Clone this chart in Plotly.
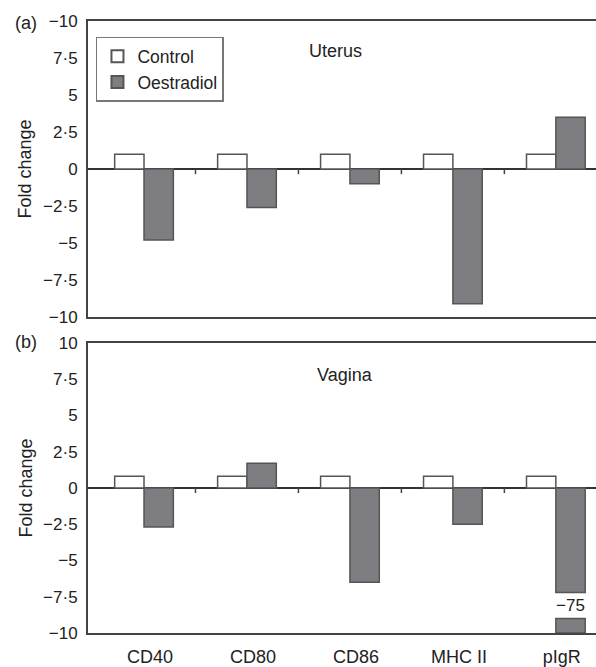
import plotly.graph_objects as go

# ---- data ----
categories = ["CD40", "CD80", "CD86", "MHC II", "pIgR"]
uterus_control = [1.0, 1.0, 1.0, 1.0, 1.0]
uterus_oestradiol = [-4.8, -2.6, -1.0, -9.1, 3.5]
vagina_control = [0.8, 0.8, 0.8, 0.8, 0.8]
vagina_oestradiol = [-2.7, 1.7, -6.5, -2.5, -75.0]

uterus_tickvals = [10, 7.5, 5, 2.5, 0, -2.5, -5, -7.5, -10]
uterus_ticktext = ["\u221210", "7\u00b75", "5", "2\u00b75", "0", "\u22122\u00b75", "\u22125", "\u22127\u00b75", "\u221210"]
vagina_tickvals = [10, 7.5, 5, 2.5, 0, -2.5, -5, -7.5, -10]
vagina_ticktext = ["10", "7\u00b75", "5", "2\u00b75", "0", "\u22122\u00b75", "\u22125", "\u22127\u00b75", "\u221210"]

# axis break for off-scale value
axis_min = -10
break_from = -7.2
break_to = -9.0

# ---- styling ----
FONT = "Liberation Sans, Arial, sans-serif"
GREY = "#7e7e82"
EDGE = "#555555"
AXC = "#444444"
W = 0.285  # bar width in category units

fig = go.Figure()

def add_panel(ctrl, oes, xa, ya, showlegend):
    fig.add_trace(go.Bar(x=list(range(len(categories))), y=ctrl, name="Control",
                         marker=dict(color="white", line=dict(color=EDGE, width=1.5)),
                         width=W, offset=-W, xaxis=xa, yaxis=ya, showlegend=showlegend))
    disp = [v if v >= axis_min else break_from for v in oes]
    fig.add_trace(go.Bar(x=list(range(len(categories))), y=disp, name="Oestradiol",
                         marker=dict(color=GREY, line=dict(color=EDGE, width=1.5)),
                         width=W, offset=0, xaxis=xa, yaxis=ya, showlegend=showlegend))
    # lower segment of broken bars
    bx, by, bb = [], [], []
    for i, v in enumerate(oes):
        if v < axis_min:
            bx.append(i)
            by.append(axis_min - break_to)
            bb.append(break_to)
            fig.add_annotation(x=i + W / 2, y=(break_from + break_to) / 2, xref=xa, yref=ya,
                               text="\u2212" + str(int(abs(v))), showarrow=False,
                               font=dict(family=FONT, size=17, color="#222"))
    if bx:
        fig.add_trace(go.Bar(x=bx, y=by, base=bb, name="Oestradiol",
                             marker=dict(color=GREY, line=dict(color=EDGE, width=1.5)),
                             width=W, offset=0, xaxis=xa, yaxis=ya, showlegend=False,
                             cliponaxis=True))
    # small ticks between categories on the zero line
    for k in range(len(categories) - 1):
        fig.add_shape(type="line", xref=xa, yref=ya, x0=k + 0.5, x1=k + 0.5, y0=0, y1=-0.35,
                      line=dict(color=AXC, width=1.5))

add_panel(uterus_control, uterus_oestradiol, "x", "y", True)
add_panel(vagina_control, vagina_oestradiol, "x2", "y2", False)

xrange = [-0.544, 4.39]
common_x = dict(type="linear", range=xrange, showgrid=False, zeroline=False, showline=True,
                mirror=True, linecolor=AXC, linewidth=2, ticks="")
common_y = dict(range=[-10, 10], showgrid=False, showline=True, linecolor=AXC, linewidth=2,
                mirror=False, zeroline=True, zerolinecolor="#333333", zerolinewidth=1.5, ticks="",
                tickmode="array", tickfont=dict(family=FONT, size=17, color="#222"),
                ticklabelstandoff=5)

fig.update_layout(
    width=596, height=667,
    margin=dict(l=88, r=0, t=21, b=30),
    plot_bgcolor="white", paper_bgcolor="white",
    barmode="overlay",
    font=dict(family=FONT, size=18, color="#222"),
    xaxis=dict(common_x, domain=[0, 1], anchor="y", showticklabels=False),
    yaxis=dict(common_y, domain=[0.5162, 1.0], anchor="x",
               tickvals=uterus_tickvals, ticktext=uterus_ticktext),
    xaxis2=dict(common_x, domain=[0, 1], anchor="y2", showticklabels=True,
                tickmode="array", tickvals=list(range(len(categories))), ticktext=categories,
                tickfont=dict(family=FONT, size=18, color="#222"), ticklabelshift=6,
                ticklabelstandoff=6),
    yaxis2=dict(common_y, domain=[0, 0.474], anchor="x2",
                tickvals=vagina_tickvals, ticktext=vagina_ticktext),
    legend=dict(x=0.0157, y=0.974, xanchor="left", yanchor="top",
                bordercolor="#777777", borderwidth=1.5, bgcolor="white",
                font=dict(family=FONT, size=17.5, color="#222"),
                tracegroupgap=0, itemsizing="constant", itemwidth=30),
    showlegend=True,
)

ann_font = dict(family=FONT, size=18, color="#222")
fig.add_annotation(x=-0.148, y=0.996, xref="paper", yref="paper", text="(a)", showarrow=False,
                   xanchor="left", yanchor="middle", font=ann_font)
fig.add_annotation(x=-0.148, y=0.476, xref="paper", yref="paper", text="(b)", showarrow=False,
                   xanchor="left", yanchor="middle", font=ann_font)
fig.add_annotation(x=0.488, y=0.951, xref="paper", yref="paper", text="Uterus", showarrow=False,
                   xanchor="center", yanchor="middle", font=ann_font)
fig.add_annotation(x=0.506, y=0.422, xref="paper", yref="paper", text="Vagina", showarrow=False,
                   xanchor="center", yanchor="middle", font=ann_font)
fig.add_annotation(x=-0.123, y=0.0, xref="paper", yref="y", text="Fold change", showarrow=False,
                   textangle=-90, xanchor="center", yanchor="middle", font=ann_font)
fig.add_annotation(x=-0.123, y=0.0, xref="paper", yref="y2", text="Fold change", showarrow=False,
                   textangle=-90, xanchor="center", yanchor="middle", font=ann_font)

fig.write_html("out.html")
